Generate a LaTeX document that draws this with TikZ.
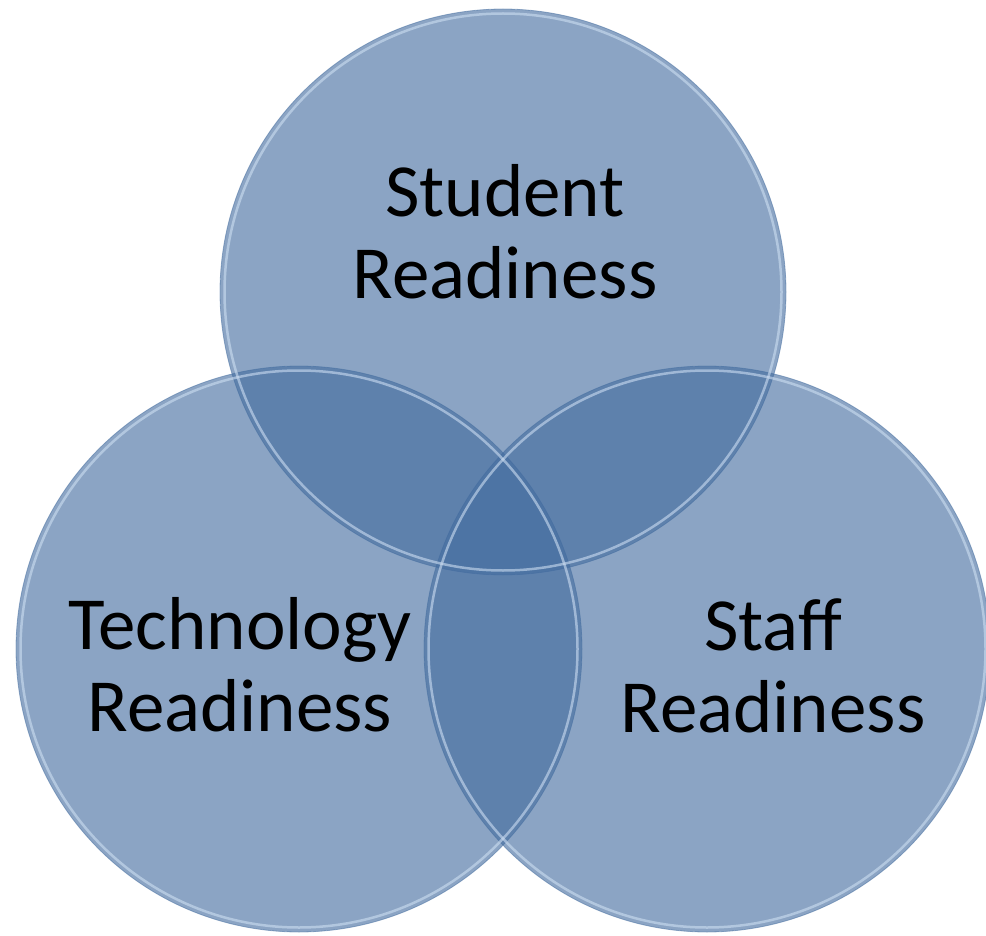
\documentclass[tikz,border=0pt]{standalone}
\usepackage{fontspec}
\setmainfont{Carlito}
\usetikzlibrary{positioning}
\definecolor{vennblue}{RGB}{66,107,158}
\definecolor{rimblue}{RGB}{205,222,242}
\tikzset{
  venn/.style={circle, minimum size=566pt, inner sep=0pt, fill=vennblue, fill opacity=0.61, draw=vennblue, draw opacity=0.5, line width=0.8pt},
  rim/.style={circle, minimum size=557pt, inner sep=0pt, draw=rimblue, draw opacity=0.6, line width=2.5pt},
  vlabel/.style={align=center, font=\fontsize{75}{82}\selectfont, text=black}
}

\begin{document}
\begin{tikzpicture}[x=1pt,y=1pt]
\useasboundingbox (0,0) rectangle (986,-936);

\node[venn] (stud) at (503,-292) {};
\node[venn] (tech) at (299,-649) {};
\node[venn] (staff) at (707,-649) {};

% glassy rims
\node[rim] (studrim) at (stud) {};
\node[rim] (techrim) at (tech) {};
\node[rim] (staffrim) at (staff) {};

\node[vlabel] (studtxt) at (505,-232) {Student\\Readiness};
\node[vlabel] (techtxt) at (240,-665) {Technology\\Readiness};
\node[vlabel] (stafftxt) at (773,-666) {Staff\\Readiness};

\end{tikzpicture}
\end{document}
